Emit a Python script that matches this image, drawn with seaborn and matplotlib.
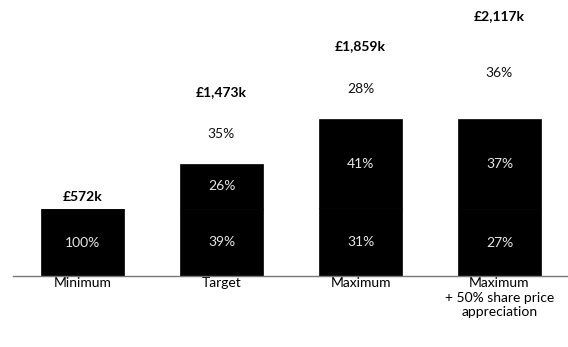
import numpy as np
import pandas as pd
import seaborn as sns
import matplotlib.pyplot as plt

# Scenario data (values in £k)
scenarios = ["Minimum", "Target", "Maximum",
             "Maximum\n+ 50% share price\nappreciation"]
fixed_pay = [572, 574, 577, 572]
annual_bonus = [0, 383, 762, 770]
ltip = [0, 516, 520, 775]
totals = ["£572k", "£1,473k", "£1,859k", "£2,117k"]
fixed_pct = ["100%", "39%", "31%", "27%"]
bonus_pct = ["", "26%", "41%", "37%"]
ltip_pct = ["", "35%", "28%", "36%"]

sns.set_theme(style="white")
plt.rcParams["font.family"] = ["Lato", "DejaVu Sans"]

df = pd.DataFrame({"scenario": scenarios, "fixed": fixed_pay,
                   "bonus": annual_bonus, "ltip": ltip})
df["b2"] = df["fixed"] + df["bonus"]
df["top"] = df["b2"] + df["ltip"]

fig = plt.figure(figsize=(5.68, 3.47), dpi=100)
ax = fig.add_axes([13 / 568, 1 - 276 / 347, 556 / 568, 276 / 347])

sns.barplot(data=df, x="scenario", y="fixed", color="black", width=0.6,
            edgecolor="black", linewidth=0.5, saturation=1, ax=ax)
sns.barplot(data=df, x="scenario", y="bonus", bottom=df["fixed"], color="black",
            width=0.6, edgecolor="black", linewidth=0.5, saturation=1, ax=ax)
sns.barplot(data=df, x="scenario", y="ltip", bottom=df["b2"], color="white",
            width=0.6, linewidth=0, saturation=1, ax=ax)

for i in range(len(scenarios)):
    ax.text(i, df["fixed"][i] / 2, fixed_pct[i], ha="center", va="center",
            color="#e6e6e6", fontsize=10)
    if bonus_pct[i]:
        ax.text(i, df["fixed"][i] + df["bonus"][i] / 2, bonus_pct[i],
                ha="center", va="center", color="#e6e6e6", fontsize=10)
    if ltip_pct[i]:
        ax.text(i, df["b2"][i] + df["ltip"][i] / 2, ltip_pct[i],
                ha="center", va="center", color="#111111", fontsize=10)
    ax.annotate(totals[i], (i, df["top"][i]), xytext=(0, 8.5),
                textcoords="offset points", ha="center", va="center",
                fontsize=10, fontweight="bold", color="black")

ax.set_xlim(-0.5, 3.5)
ax.set_ylim(0, 276 / 0.1171)
ax.set_xlabel("")
ax.set_ylabel("")
ax.set_yticks([])
ax.tick_params(axis="x", length=0, pad=1, labelsize=10, colors="black")
for lbl in ax.get_xticklabels():
    lbl.set_linespacing(1.25)
for s in ["top", "left", "right"]:
    ax.spines[s].set_visible(False)
ax.spines["bottom"].set_color("#777777")
ax.spines["bottom"].set_linewidth(1.0)

fig.savefig("out.png", dpi=100, facecolor="white")
